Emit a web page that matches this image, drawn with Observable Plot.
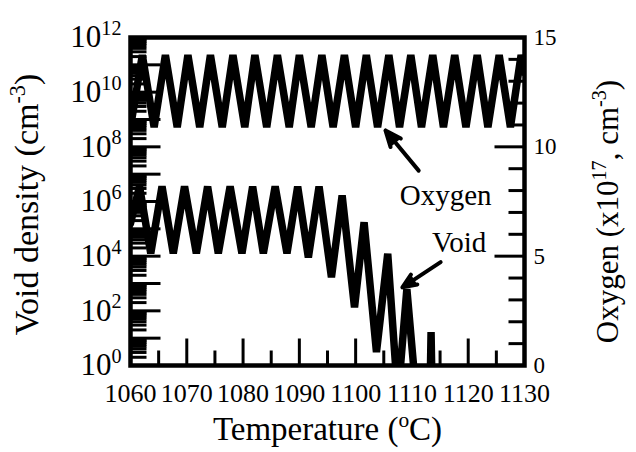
<!DOCTYPE html>
<html>
<head>
<meta charset="utf-8">
<script src="https://cdn.jsdelivr.net/npm/d3@7"></script>
<script src="https://cdn.jsdelivr.net/npm/@observablehq/plot@0.6"></script>
<style>
  html, body { margin: 0; padding: 0; background: #fff; }
  svg { font-family: "Liberation Serif", "Times New Roman", serif; }
</style>
</head>
<body>
<div id="chart"></div>
<script>
// ---- data ----
// Oxygen (x10^17 cm^-3), right axis
const oxygenT = [1060.0, 1062.1, 1064.2, 1066.2, 1068.3, 1070.2, 1072.3, 1074.2, 1076.3, 1078.2,
                 1080.3, 1082.1, 1084.2, 1086.1, 1088.2, 1090.0, 1092.1, 1094.0, 1096.0, 1098.0,
                 1100.0, 1101.9, 1103.9, 1105.9, 1107.8, 1109.8, 1111.7, 1113.7, 1115.6, 1117.6,
                 1119.6, 1121.6, 1123.5, 1125.5, 1127.5, 1129.4, 1130.0];
const oxygenV = [10.9, 14.2, 10.9, 14.2, 10.9, 14.2, 10.9, 14.2, 10.9, 14.2,
                 10.9, 14.2, 10.9, 14.2, 10.9, 14.2, 10.9, 14.2, 10.9, 14.2,
                 10.9, 14.2, 10.9, 14.2, 10.9, 14.2, 10.9, 14.2, 10.9, 14.2,
                 10.9, 14.2, 10.9, 14.2, 10.9, 14.2, 13.4];
// Void density (cm^-3), left log axis, given as log10 exponents
const voidT = [1060.0, 1061.6, 1063.6, 1065.6, 1067.6, 1069.6, 1071.7, 1073.7, 1075.6, 1077.7,
               1079.8, 1081.7, 1083.6, 1085.7, 1087.8, 1089.7, 1091.6, 1093.5, 1095.7, 1097.6,
               1099.8, 1101.5, 1103.7, 1105.7, 1107.5, 1109.1, 1110.8, 1113.2, 1113.4, 1113.6];
const voidExp = [5.2, 6.55, 4.1, 6.55, 4.1, 6.55, 4.1, 6.55, 4.1, 6.55,
                 4.1, 6.55, 4.1, 6.55, 4.1, 6.55, 3.95, 6.55, 3.23, 6.22,
                 2.13, 5.24, 0.49, 4.09, -1.2, 2.8, -1.2, -1.2, 1.22, -1.2];

// ---- axes / ticks ----
const xTickLabels = [1060, 1070, 1080, 1090, 1100, 1110, 1120, 1130];
const xMinorTicks = [1065, 1075, 1085, 1095, 1105, 1115, 1125];
const leftLabelExps = [0, 2, 4, 6, 8, 10, 12];
const leftMajorExps = [0, 1, 2, 3, 4, 5, 6, 7, 8, 9, 10, 11, 12];
const leftMinorMult = [2, 3, 4, 5, 6, 7, 8, 9];
const rightTickLabels = [0, 5, 10, 15];
const rightMinorTicks = [1, 2, 3, 4, 6, 7, 8, 9, 11, 12, 13, 14];

// ---- annotations ----
const annoLabels = ["Oxygen", "Void"];
const annoT = [1116.0, 1118.4];
const annoExp = [6.22, 4.5];
const arrowT1 = [1111.2, 1115.1];
const arrowExp1 = [7.13, 3.78];
const arrowT2 = [1105.3, 1108.3];
const arrowExp2 = [8.6, 2.86];

const xTitle = "Temperature (^{o}C)";
const yTitle = "Void density (cm^{-3})";
const y2Title = "Oxygen (x10^{17}, cm^{-3})";

// right axis (0..15) shares the pixel range of the left log axis (1..1e12)
const toLeft = v => 10 ** (v * 12 / 15);

const oxy = oxygenT.map((t, i) => ({t, y: toLeft(oxygenV[i])}));
const vd = voidT.map((t, i) => ({t, y: 10 ** voidExp[i]}));
const leftMinor = [];
for (const e of leftMajorExps.slice(0, -1)) for (const k of leftMinorMult) leftMinor.push(k * 10 ** e);
const annos = annoLabels.map((label, i) => ({label, t: annoT[i], y: 10 ** annoExp[i]}));
const arrows = arrowT1.map((t, i) => ({t1: t, y1: 10 ** arrowExp1[i], t2: arrowT2[i], y2: 10 ** arrowExp2[i]}));

const tickShape = {draw(ctx, l) { ctx.moveTo(0, 0); ctx.lineTo(0, -l); }};
const tick = (data, opts) => Plot.vector(data, {
  anchor: "start", shape: tickShape, stroke: "black", strokeWidth: 3, strokeLinecap: "butt", ...opts
});

const plot = Plot.plot({
  width: 636, height: 452,
  marginLeft: 130, marginRight: 112, marginTop: 37, marginBottom: 87,
  x: {domain: [1060, 1130], axis: null},
  y: {type: "log", domain: [1, 1e12], axis: null},
  style: {background: "white", color: "black", fontFamily: "Liberation Serif"},
  marks: [
    Plot.line(oxy, {x: "t", y: "y", stroke: "black", strokeWidth: 7.5, strokeLinejoin: "bevel", clip: true}),
    Plot.line(vd, {x: "t", y: "y", stroke: "black", strokeWidth: 7.5, strokeLinejoin: "bevel", clip: true}),
    // left ticks
    tick(leftMinor, {y: d => d, frameAnchor: "left", rotate: 90, length: 16}),
    tick(leftMajorExps, {y: e => 10 ** e, frameAnchor: "left", rotate: 90, length: 30}),
    // right ticks
    tick(rightMinorTicks, {y: v => toLeft(v), frameAnchor: "right", rotate: -90, length: 16}),
    tick(rightTickLabels, {y: v => toLeft(v), frameAnchor: "right", rotate: -90, length: 30}),
    // bottom ticks
    tick(xMinorTicks, {x: d => d, frameAnchor: "bottom", rotate: 0, length: 15}),
    tick(xTickLabels, {x: d => d, frameAnchor: "bottom", rotate: 0, length: 27}),
    Plot.frame({stroke: "black", strokeWidth: 4.5}),
    // tick labels
    Plot.text(xTickLabels, {x: d => d, frameAnchor: "bottom", lineAnchor: "middle", dy: 28, fontSize: 26,
      text: d => String(d), fill: "black"}),
    Plot.text(leftLabelExps, {y: e => 10 ** e, frameAnchor: "left", lineAnchor: "middle", textAnchor: "end", dx: -9, fontSize: 31,
      text: e => `10^{${e}}`, fill: "black"}),
    Plot.text(rightTickLabels, {y: v => toLeft(v), frameAnchor: "right", lineAnchor: "middle", textAnchor: "start", dx: 9, fontSize: 23,
      text: d => String(d), fill: "black"}),
    // titles
    Plot.text([xTitle], {text: d => d, frameAnchor: "bottom", lineAnchor: "middle", textAnchor: "middle", dy: 64, fontSize: 33, fill: "black"}),
    Plot.text([yTitle], {text: d => d, frameAnchor: "left", lineAnchor: "middle", textAnchor: "middle", dx: -103, dy: 3, rotate: -90, fontSize: 34, fill: "black"}),
    Plot.text([y2Title], {text: d => d, frameAnchor: "right", lineAnchor: "middle", textAnchor: "middle", dx: 84, dy: 10, rotate: -90, fontSize: 31, fill: "black"}),
    // annotations
    Plot.text(annos, {x: "t", y: "y", text: "label", fontSize: 29, fill: "black"}),
    Plot.arrow(arrows, {x1: "t1", y1: "y1", x2: "t2", y2: "y2", stroke: "black", fill: "black",
      strokeWidth: 4, headLength: 20, headAngle: 45})
  ]
});

document.getElementById("chart").appendChild(plot);

// superscript rendering for "^{...}" markup
const NS = "http://www.w3.org/2000/svg";
plot.querySelectorAll("text").forEach(el => {
  const s = el.textContent;
  if (!s.includes("^{")) return;
  const fs = parseFloat(getComputedStyle(el).fontSize);
  const rise = fs * 0.4;
  while (el.firstChild) el.removeChild(el.firstChild);
  const parts = s.split(/\^\{([^}]*)\}/);
  let cur = 0;
  parts.forEach((p, i) => {
    if (!p) return;
    const ts = document.createElementNS(NS, "tspan");
    ts.textContent = p;
    const target = i % 2 === 1 ? -rise : 0;
    if (i % 2 === 1) ts.setAttribute("font-size", fs * 0.65);
    if (target !== cur) ts.setAttribute("dy", target - cur);
    cur = target;
    el.appendChild(ts);
  });
});
</script>
</body>
</html>
